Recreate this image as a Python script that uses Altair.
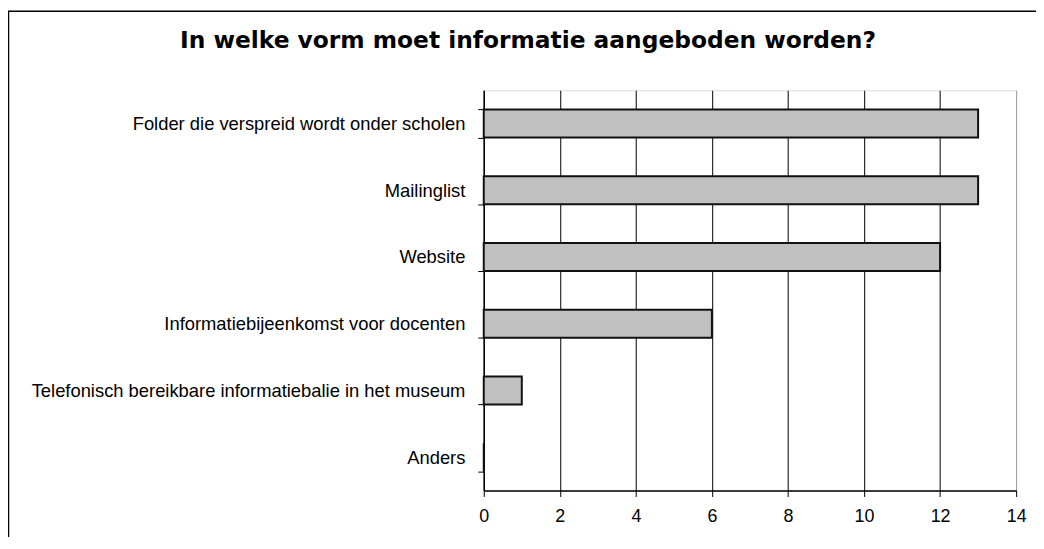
import altair as alt
import pandas as pd

title_text = "In welke vorm moet informatie aangeboden worden?"
categories = [
    "Folder die verspreid wordt onder scholen",
    "Mailinglist",
    "Website",
    "Informatiebijeenkomst voor docenten",
    "Telefonisch bereikbare informatiebalie in het museum",
    "Anders",
]
counts = [13, 13, 12, 6, 1, 0]
x_ticks = [0, 2, 4, 6, 8, 10, 12, 14]

df = pd.DataFrame({"categorie": categories, "aantal": counts})

W, H = 536, 403

bars = alt.Chart(df).mark_bar(
    color="#C0C0C0", stroke="#111111", strokeWidth=2
).encode(
    x=alt.X(
        "aantal:Q",
        scale=alt.Scale(domain=[0, 14], nice=False),
        axis=alt.Axis(
            values=x_ticks, title=None, grid=True,
            gridColor=alt.condition("datum.value == 14", alt.value("#999999"), alt.value("#000000")),
            gridOpacity=1, gridWidth=1,
            tickSize=6, tickColor="#000000", domainColor="#000000", domainWidth=1.5,
            labelFontSize=18, labelFont="Liberation Sans", labelColor="#000000",
            labelPadding=11, labelFlush=False,
        ),
    ),
    y=alt.Y(
        "categorie:N",
        sort=categories,
        scale=alt.Scale(paddingInner=0.58, paddingOuter=0.29),
        axis=alt.Axis(
            title=None, tickBand="extent", tickSize=6, tickColor="#000000",
            domainColor="#000000", domainWidth=1.5,
            labelFontSize=18.5, labelFont="Liberation Sans", labelColor="#000000",
            labelPadding=13, labelLimit=700,
        ),
    ),
)

one = alt.Data(values=[{"a": 1}])

border_top = alt.Chart(one).mark_rule(color="#000000", strokeWidth=1.5).encode(
    x=alt.value(-479), x2=alt.value(560), y=alt.value(-79.5)
)
border_left = alt.Chart(one).mark_rule(color="#000000", strokeWidth=1.5).encode(
    x=alt.value(-478.5), y=alt.value(-80), y2=alt.value(470)
)

title = alt.Chart(alt.Data(values=[{"t": title_text}])).mark_text(
    font="DejaVu Sans", fontSize=23.5, fontWeight="bold", color="#000000",
    align="center", baseline="alphabetic",
).encode(
    text="t:N", x=alt.value(44.5), y=alt.value(-42.3)
)

chart = alt.layer(bars, border_top, border_left, title).properties(
    width=W, height=H,
    autosize=alt.AutoSizeParams(type="none"),
    padding={"left": 479, "top": 81, "right": 20, "bottom": 45},
).configure_view(
    stroke="#999999", strokeWidth=1.5
).configure(background="white")

chart.save("out.html", embed_options={"renderer": "svg", "actions": False})
